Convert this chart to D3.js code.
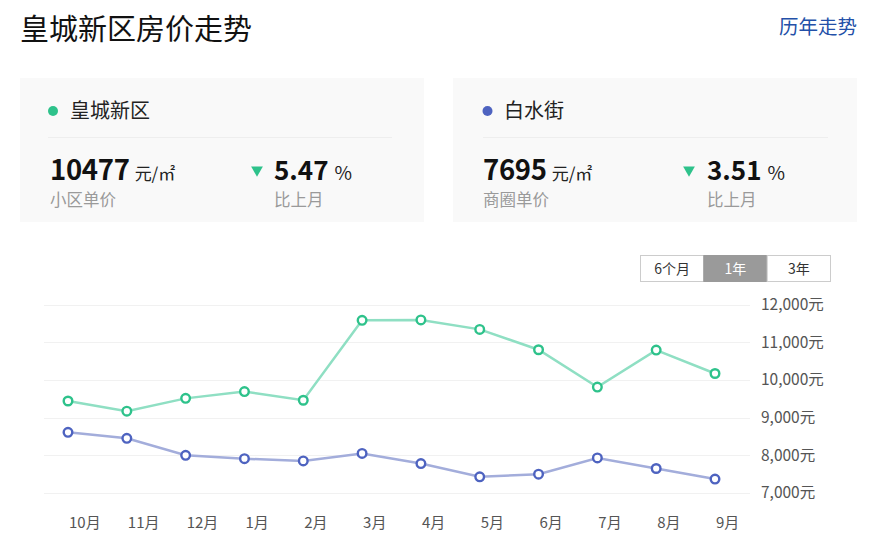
<!DOCTYPE html>
<html>
<head>
<meta charset="utf-8">
<script src="https://cdn.jsdelivr.net/npm/d3@7"></script>
<style>
  html, body { margin: 0; padding: 0; background: #fff; }
  body { width: 884px; height: 548px; overflow: hidden; font-family: "Noto Sans CJK SC", "Noto Sans", sans-serif; }
</style>
</head>
<body id="body">
<script>
// values
const months = ["10月", "11月", "12月", "1月", "2月", "3月", "4月", "5月", "6月", "7月", "8月", "9月"];
const hcxq = [9440, 9170, 9510, 9690, 9460, 11580, 11590, 11340, 10800, 9810, 10790, 10170];
const bsj = [8610, 8450, 8000, 7910, 7850, 8050, 7780, 7430, 7500, 7930, 7650, 7370];
const yTicks = [7000, 8000, 9000, 10000, 11000, 12000];
const ranges = ["6个月", "1年", "3年"];

const areaNames = ["皇城新区", "白水街"];
const areaPrices = ["10477", "7695"];
const priceLabels = ["小区单价", "商圈单价"];
const monthChange = ["5.47", "3.51"];

const green = "#2ec28b", greenLine = "#8fdfc3";
const blue = "#4e63c0", blueLine = "#a3addb";

const width = 884, height = 548;

const svg = d3.select("body")
  .append("svg")
  .attr("width", width)
  .attr("height", height);

// header
svg.append("text")
  .attr("x", 20).attr("y", 40)
  .attr("font-size", 29)
  .attr("fill", "#111")
  .text("皇城新区房价走势");

svg.append("text")
  .attr("x", 857).attr("y", 34)
  .attr("text-anchor", "end")
  .attr("font-size", 19.5)
  .attr("fill", "#2350a8")
  .text("历年走势");

// summary cards
const cardX = [20, 453];
const dotColors = [green, blue];

const cards = svg.selectAll("g.card")
  .data(areaNames)
  .join("g")
  .attr("class", "card")
  .attr("transform", (d, i) => `translate(${cardX[i]},78)`);

cards.append("rect")
  .attr("width", 404).attr("height", 144)
  .attr("fill", "#f9f9f9");

cards.append("circle")
  .attr("cx", (d, i) => i ? 34.5 : 33).attr("cy", 33)
  .attr("r", 5)
  .attr("fill", (d, i) => dotColors[i]);

cards.append("text")
  .attr("x", (d, i) => i ? 51 : 50).attr("y", 39.5)
  .attr("font-size", 20)
  .attr("fill", "#222")
  .text(d => d);

cards.append("line")
  .attr("x1", (d, i) => i ? 30 : 28).attr("x2", (d, i) => i ? 375 : 372)
  .attr("y1", 59.5).attr("y2", 59.5)
  .attr("stroke", "#eeeeee");

const price = cards.append("text")
  .attr("x", 30).attr("y", 102)
  .attr("fill", "#111");
price.append("tspan")
  .attr("font-size", 27.5).attr("font-weight", "bold")
  .attr("letter-spacing", -0.3)
  .text((d, i) => areaPrices[i]);
price.append("tspan")
  .attr("dx", 5)
  .attr("font-size", 17)
  .attr("fill", "#222")
  .text("元/㎡");

cards.append("text")
  .attr("x", 30).attr("y", 128)
  .attr("font-size", 16.5)
  .attr("fill", "#9a9a9a")
  .text((d, i) => priceLabels[i]);

cards.append("path")
  .attr("d", d3.symbol(d3.symbolTriangle, 60))
  .attr("transform", (d, i) => `translate(${i ? 236 : 237},92) rotate(180)`)
  .attr("fill", green);

const change = cards.append("text")
  .attr("x", 254).attr("y", 102)
  .attr("fill", "#111");
change.append("tspan")
  .attr("font-size", 26).attr("font-weight", "bold")
  .text((d, i) => monthChange[i]);
change.append("tspan")
  .attr("dx", 6)
  .attr("font-size", 19)
  .attr("fill", "#222")
  .text("%");

cards.append("text")
  .attr("x", 254).attr("y", 128)
  .attr("font-size", 16.5)
  .attr("fill", "#9a9a9a")
  .text("比上月");

// range switch
const btnX = d3.scaleBand().domain(ranges).range([640.5, 830.5]);
const btns = svg.selectAll("g.btn")
  .data(ranges)
  .join("g")
  .attr("class", "btn")
  .attr("transform", d => `translate(${btnX(d)},255.5)`);
btns.append("rect")
  .attr("width", btnX.bandwidth()).attr("height", 26)
  .attr("fill", d => d === "1年" ? "#9a9a9a" : "#fff")
  .attr("stroke", d => d === "1年" ? "#9a9a9a" : "#cccccc");
btns.append("text")
  .attr("x", btnX.bandwidth() / 2).attr("y", 18)
  .attr("text-anchor", "middle")
  .attr("font-size", 14)
  .attr("fill", d => d === "1年" ? "#fff" : "#333")
  .text(d => d);

// chart
const x = d3.scalePoint().domain(months).range([68, 715]);
const y = d3.scaleLinear().domain([7000, 12000]).range([493, 304.5]);

svg.append("g")
  .selectAll("line")
  .data(yTicks)
  .join("line")
  .attr("x1", 44).attr("x2", 750)
  .attr("y1", d => Math.round(y(d)) + 0.5).attr("y2", d => Math.round(y(d)) + 0.5)
  .attr("stroke", "#f1f1f1");

const yAxis = d3.axisRight(y)
  .tickValues(yTicks)
  .tickSize(0)
  .tickPadding(0)
  .tickFormat(d => d3.format(",")(d) + "元");
svg.append("g")
  .attr("transform", "translate(761,0)")
  .call(yAxis)
  .call(g => g.select(".domain").remove())
  .call(g => g.selectAll("text")
    .attr("font-size", 15.5)
    .attr("font-family", "'Noto Sans CJK SC', sans-serif")
    .attr("fill", "#555"));

svg.append("g")
  .selectAll("text")
  .data(months)
  .join("text")
  .attr("x", d => x(d) + 1)
  .attr("y", 528)
  .attr("font-size", 15)
  .attr("fill", "#555")
  .text(d => d);

const line = d3.line()
  .x((d, i) => x(months[i]))
  .y(d => y(d));

const series = [
  { values: hcxq, stroke: greenLine, marker: green },
  { values: bsj, stroke: blueLine, marker: blue }
];

series.forEach(s => {
  svg.append("path")
    .datum(s.values)
    .attr("d", line)
    .attr("fill", "none")
    .attr("stroke", s.stroke)
    .attr("stroke-width", 2.5);

  svg.append("g")
    .selectAll("circle")
    .data(s.values)
    .join("circle")
    .attr("cx", (d, i) => x(months[i]))
    .attr("cy", d => y(d))
    .attr("r", 4.3)
    .attr("fill", "#fff")
    .attr("stroke", s.marker)
    .attr("stroke-width", 2.4);
});
</script>
</body>
</html>
